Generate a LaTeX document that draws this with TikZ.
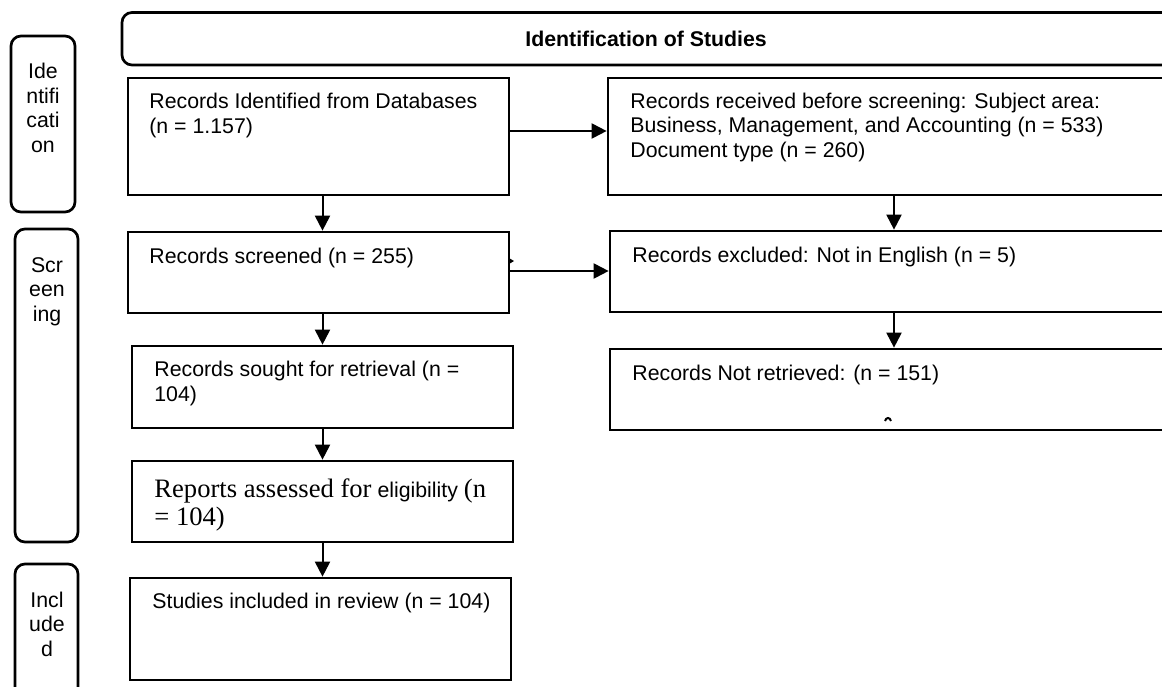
\documentclass[tikz,border=0pt]{standalone}
\usepackage{fontspec}
\setmainfont{Liberation Sans}
\newfontfamily\tms{Liberation Serif}
\usetikzlibrary{arrows.meta}
\tikzset{
  box/.style={draw, line width=1.35pt, inner sep=0pt},
  lab/.style={draw, line width=1.35pt, inner sep=0pt, rounded corners=5pt},
  txt/.style={inner sep=0pt, anchor=base west, align=left, font=\fontsize{10.65}{12.25}\selectfont},
  ctxt/.style={inner sep=0pt, anchor=base, align=center, font=\fontsize{10.65}{12.25}\selectfont},
  arr/.style={line width=1pt, -{Triangle[length=7.5pt,width=7.5pt]}}
}
\begin{document}
\begin{tikzpicture}[x=0.5pt,y=-0.5pt]
\clip (0,0) rectangle (1162,686);
\fill[white] (0,0) rectangle (1162,686);
% header
\node[lab, minimum width=526.5pt, minimum height=26.25pt] (hdr) at (648.5,38.75) {};
\node[txt, font=\fontsize{10.65}{12.25}\selectfont\bfseries] (hdrt) at (525,46) {Identification of Studies};
% stage labels (multi-line nodes: base anchor = last line)
\node[lab, minimum width=32pt, minimum height=88pt] (idlab) at (43,124) {};
\node[ctxt] (idt) at (43,152) {Ide\\ntifi\\cati\\on};
\node[lab, minimum width=31.5pt, minimum height=156.5pt] (scrlab) at (46.5,385.5) {};
\node[ctxt] (scrt) at (47,321) {Scr\\een\\ing};
\node[lab, minimum width=31.5pt, minimum height=73pt] (inclab) at (46.5,637) {};
\node[ctxt] (inct) at (47,656) {Incl\\ude\\d};
% boxes
\node[box, minimum width=190.5pt, minimum height=58.5pt] (b1) at (318.5,136.5) {};
\node[box, minimum width=286pt, minimum height=58.5pt] (r1) at (894,136.5) {};
\node[box, minimum width=190.5pt, minimum height=40.5pt] (b2) at (318.5,272.5) {};
\node[box, minimum width=284pt, minimum height=40.5pt] (r2) at (894,271.5) {};
\node[box, minimum width=190.5pt, minimum height=41pt] (b3) at (322.5,387) {};
\node[box, minimum width=284pt, minimum height=40.5pt] (r3) at (894,389.5) {};
\node[box, minimum width=190.5pt, minimum height=40.5pt] (b4) at (322.5,501.5) {};
\node[box, minimum width=190.5pt, minimum height=51pt] (b5) at (320.5,629) {};
% texts
\node[txt] (b1t) at (149,133) {Records Identified from Databases\\(n = 1.157)};
\node[txt] (r1t) at (630,157) {Records received before screening: Subject area:\\Business, Management, and Accounting (n = 533)\\Document type (n = 260)};
\node[txt] (b2t) at (149,263) {Records screened (n = 255)};
\node[txt] (r2t) at (632,262) {Records excluded: Not in English (n = 5)};
\node[txt] (b3t) at (154,401) {Records sought for retrieval (n =\\104)};
\node[txt] (r3t) at (632,380) {Records Not retrieved: (n = 151)};
\node[txt, font=\fontsize{10.65}{14}\selectfont] (b4t) at (154,525) {{\tms\fontsize{13.3}{14}\selectfont Reports assessed for} eligibility {\tms\fontsize{13.3}{14}\selectfont (n}\\{\tms\fontsize{13.3}{14}\selectfont = 104)}};
\node[txt] (b5t) at (152,608) {Studies included in review (n = 104)};
% arrows
\draw[arr] (b1.south -| b3.north) -- (b2.north -| b3.north);
\draw[arr] ([yshift=2.75pt]b1.east) -- ([yshift=2.75pt]r1.west);
\draw[arr] (r1.south) -- (r2.north);
\draw[arr] ([yshift=.75pt]b2.east) -- ([yshift=.25pt]r2.west);
\draw[arr] (b2.south -| b3.north) -- (b3.north);
\draw[arr] (r2.south) -- (r3.north);
\draw[arr] (b3.south) -- (b4.north);
\draw[arr] (b4.south) -- (b5.north -| b4.south);
% stray marks
\fill (509,258) -- (514,261) -- (509,264) -- cycle;
\draw[line width=1pt] (885,421) .. controls (886,417) and (890,417) .. (891,421);
\end{tikzpicture}
\end{document}
